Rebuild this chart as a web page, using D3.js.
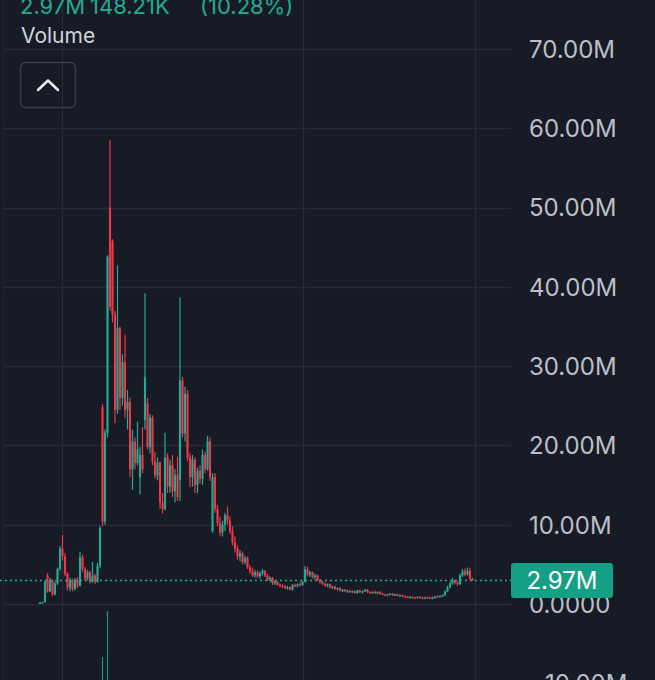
<!DOCTYPE html>
<html>
<head>
<meta charset="utf-8">
<script src="https://cdn.jsdelivr.net/npm/d3@7"></script>
<style>
  html, body { margin: 0; padding: 0; background: #171b26; }
  svg { display: block; }
</style>
</head>
<body>
<div id="chart"></div>
<script>
// volume candles, in millions: [open, high, low, close]
const candles = [
  [0.05, 0.25, 0.0, 0.15], [0.15, 0.3, 0.1, 0.25], [0.25, 3.0, 0.2, 2.8], [3.6, 3.9, 1.4, 1.6],
  [1.6, 3.3, 1.5, 3.0], [3.0, 3.1, 1.0, 1.2], [1.2, 2.8, 1.1, 2.6], [2.6, 4.6, 2.4, 4.4],
  [4.4, 7.3, 4.2, 7.0], [7.0, 8.7, 5.5, 6.0], [6.0, 6.4, 3.5, 3.8], [3.8, 4.0, 1.7, 2.1],
  [2.1, 3.3, 1.6, 3.0], [3.0, 3.2, 1.6, 1.9], [1.9, 3.3, 1.7, 3.0], [3.0, 3.4, 2.0, 2.3],
  [2.3, 6.6, 2.2, 5.9], [5.9, 6.2, 4.0, 4.4], [4.4, 4.7, 2.9, 3.2], [3.2, 4.3, 3.0, 4.0],
  [4.0, 4.2, 2.6, 2.8], [2.8, 5.3, 2.7, 3.6], [3.6, 3.8, 2.5, 2.8], [2.8, 5.2, 2.7, 4.8],
  [4.8, 9.8, 4.5, 9.6], [24.8, 25.2, 9.8, 10.4], [10.4, 22.0, 10.0, 21.6], [21.6, 44.0, 21.0, 43.8],
  [50.0, 58.5, 37.0, 37.5], [45.8, 46.0, 35.5, 36.5], [36.5, 37.0, 22.8, 24.5], [24.5, 42.7, 24.0, 34.8],
  [34.8, 35.0, 24.5, 26.0], [26.0, 31.5, 25.0, 30.5], [30.5, 34.0, 23.5, 24.5], [24.5, 27.0, 22.0, 25.5],
  [25.5, 26.0, 16.0, 17.0], [17.0, 22.0, 14.4, 20.5], [20.5, 21.0, 17.0, 17.8], [17.8, 23.0, 17.5, 19.5],
  [16.0, 19.8, 13.8, 18.8], [18.8, 22.3, 16.5, 17.0], [23.2, 39.2, 22.0, 28.6], [25.3, 26.0, 19.5, 19.8],
  [19.8, 24.0, 19.0, 23.5], [23.5, 23.8, 17.5, 18.0], [18.0, 19.2, 15.8, 16.2], [16.2, 18.5, 15.6, 17.8],
  [17.8, 18.0, 12.0, 12.8], [12.8, 14.0, 11.4, 12.0], [12.0, 21.6, 11.8, 18.5], [18.5, 19.0, 14.0, 14.8],
  [14.8, 18.2, 14.0, 17.5], [17.5, 18.8, 13.5, 14.2], [14.2, 17.0, 12.8, 16.3], [16.3, 18.6, 13.0, 13.5],
  [15.6, 38.7, 13.0, 28.2], [28.2, 28.6, 21.0, 21.5], [21.5, 27.4, 20.5, 26.5], [26.5, 27.0, 18.0, 18.5],
  [18.5, 19.0, 14.8, 16.0], [16.0, 18.8, 14.8, 18.2], [18.2, 18.5, 14.0, 15.0], [15.0, 17.2, 14.0, 16.8],
  [16.8, 17.5, 15.2, 15.8], [15.8, 19.5, 15.0, 18.8], [18.8, 19.2, 16.5, 17.0], [17.0, 21.2, 16.8, 20.5],
  [20.5, 21.0, 15.5, 16.0], [9.2, 16.5, 9.0, 16.0], [16.0, 16.5, 11.5, 12.0], [12.0, 12.5, 9.8, 10.2],
  [10.2, 11.0, 8.6, 9.0], [9.0, 10.5, 8.5, 10.0], [10.0, 11.5, 9.2, 11.2], [11.2, 12.3, 10.0, 10.5],
  [10.5, 11.0, 8.8, 9.2], [9.2, 9.8, 7.4, 7.8], [7.8, 8.5, 6.5, 7.0], [7.0, 7.4, 5.6, 6.0],
  [6.0, 6.8, 5.4, 6.4], [6.4, 6.6, 5.0, 5.3], [5.3, 6.1, 5.0, 5.8], [5.8, 6.0, 4.4, 4.6],
  [4.6, 4.9, 3.8, 4.1], [4.1, 4.6, 3.4, 3.6], [3.6, 4.3, 3.3, 4.0], [4.0, 4.2, 3.3, 3.5],
  [3.5, 4.1, 3.2, 3.9], [3.9, 4.4, 3.6, 4.2], [4.2, 4.3, 3.4, 3.6], [3.6, 3.8, 2.9, 3.1],
  [3.1, 3.5, 2.8, 3.3], [3.3, 3.4, 2.4, 2.6], [2.6, 3.0, 2.4, 2.8], [2.8, 2.9, 2.3, 2.4],
  [2.4, 2.6, 2.1, 2.3], [2.3, 2.5, 2.0, 2.2], [2.2, 2.4, 1.9, 2.0], [2.0, 2.3, 1.8, 2.1],
  [2.1, 2.2, 1.7, 1.8], [1.8, 2.5, 1.7, 2.4], [2.4, 2.6, 2.1, 2.3], [2.3, 2.6, 2.1, 2.5],
  [2.5, 2.7, 2.2, 2.4], [2.4, 2.9, 2.3, 2.8], [2.8, 4.8, 2.7, 4.4], [4.4, 4.7, 3.5, 3.7],
  [3.7, 4.2, 3.4, 4.0], [4.0, 4.1, 3.2, 3.4], [3.4, 3.8, 3.1, 3.6], [3.6, 3.7, 2.9, 3.0],
  [3.0, 3.2, 2.6, 2.8], [2.8, 2.9, 2.4, 2.5], [2.5, 2.7, 2.2, 2.3], [2.3, 2.6, 2.1, 2.5],
  [2.5, 2.6, 2.0, 2.1], [2.1, 2.3, 1.9, 2.2], [2.2, 2.3, 1.8, 1.9], [1.9, 2.1, 1.7, 2.0],
  [2.0, 2.1, 1.6, 1.7], [1.7, 1.9, 1.5, 1.8], [1.8, 1.9, 1.5, 1.6], [1.6, 1.8, 1.4, 1.7],
  [1.7, 1.8, 1.4, 1.5], [1.5, 1.7, 1.4, 1.6], [1.6, 1.7, 1.3, 1.4], [1.4, 1.8, 1.3, 1.7],
  [1.7, 1.8, 1.4, 1.5], [1.5, 1.7, 1.3, 1.6], [1.6, 1.9, 1.5, 1.8], [1.8, 1.9, 1.4, 1.5],
  [1.5, 1.6, 1.3, 1.4], [1.4, 1.6, 1.3, 1.5], [1.5, 1.7, 1.3, 1.4], [1.4, 1.6, 1.2, 1.5],
  [1.5, 1.6, 1.2, 1.3], [1.3, 1.4, 1.1, 1.2], [1.2, 1.3, 1.0, 1.1], [1.1, 1.3, 1.0, 1.2],
  [1.2, 1.4, 1.1, 1.3], [1.3, 1.4, 1.0, 1.1], [1.1, 1.3, 1.0, 1.2], [1.2, 1.3, 1.0, 1.0],
  [1.0, 1.2, 0.9, 1.1], [1.1, 1.2, 0.9, 0.95], [0.95, 1.1, 0.8, 0.9], [0.9, 1.0, 0.8, 0.85],
  [0.85, 1.0, 0.7, 0.9], [0.9, 1.0, 0.7, 0.8], [0.8, 0.9, 0.7, 0.75], [0.75, 0.95, 0.7, 0.9],
  [0.9, 1.0, 0.7, 0.8], [0.8, 0.9, 0.6, 0.7], [0.7, 0.9, 0.6, 0.85], [0.85, 0.95, 0.7, 0.8],
  [0.8, 0.9, 0.6, 0.7], [0.7, 0.9, 0.6, 0.85], [0.85, 1.0, 0.7, 0.95], [0.95, 1.1, 0.8, 0.9],
  [0.9, 1.1, 0.85, 1.0], [1.0, 1.2, 0.9, 1.1], [1.1, 1.7, 1.0, 1.6], [1.6, 2.3, 1.5, 2.1],
  [2.1, 2.8, 2.0, 2.6], [2.6, 3.3, 2.4, 3.0], [3.0, 3.1, 2.5, 2.7], [2.7, 2.9, 2.3, 2.5],
  [2.5, 3.8, 2.4, 3.6], [3.6, 4.4, 3.4, 4.1], [4.1, 4.5, 3.5, 3.7], [3.7, 4.6, 3.6, 4.2],
  [4.2, 4.5, 3.0, 3.2], [3.2, 3.3, 2.9, 2.97]
];

const yTicks = [70, 60, 50, 40, 30, 20, 10, 0, -10];
const timeGridIndex = [8.8, 105.2, 174];   // vertical grid lines (candle index)
const lastValue = 2.97;
const lastValueLabel = "2.97M";
// wick tops of the pane below that reach into this one: [candle index, top value]
const lowerPaneTops = [[25, -6.7], [27, -0.9]];
const headerParts = ["2.97M", "148.21K", "(10.28%)"];
const paneTitle = "Volume";

const width = 655, height = 680;
const plotRight = 511;
const upColor = "#22ab94", downColor = "#f23645";
const gridColor = "#272b37";
const fontFamily = "Inter, Roboto, 'Noto Sans', sans-serif";

const svg = d3.select("#chart").append("svg")
  .attr("width", width)
  .attr("height", height);

svg.append("rect")
  .attr("width", width).attr("height", height)
  .attr("fill", "#171b26");

const x = d3.scaleLinear()
  .domain([0, candles.length - 1])
  .range([40, 472.5]);

const y = d3.scaleLinear()
  .domain([0, 70])
  .range([604, 49]);

// grid
svg.append("g").selectAll("line")
  .data(yTicks)
  .enter().append("line")
  .attr("x1", 4).attr("x2", plotRight)
  .attr("y1", d => Math.round(y(d)) + 0.5)
  .attr("y2", d => Math.round(y(d)) + 0.5)
  .attr("stroke", gridColor)
  .attr("stroke-width", 1.3);

svg.append("g").selectAll("line")
  .data(timeGridIndex)
  .enter().append("line")
  .attr("x1", d => Math.round(x(d)) + 0.5)
  .attr("x2", d => Math.round(x(d)) + 0.5)
  .attr("y1", 0).attr("y2", height)
  .attr("stroke", gridColor)
  .attr("stroke-width", 1.3);

// left pane edge
svg.append("line")
  .attr("x1", 3.5).attr("x2", 3.5)
  .attr("y1", 0).attr("y2", height)
  .attr("stroke", "#222633");

// wicks from the lower pane poking up
svg.append("g").selectAll("line")
  .data(lowerPaneTops)
  .enter().append("line")
  .attr("x1", d => x(d[0])).attr("x2", d => x(d[0]))
  .attr("y1", d => y(d[1])).attr("y2", height)
  .attr("stroke", "#1f9483")
  .attr("stroke-width", 1.2);

// candles
const candle = svg.append("g").selectAll("g")
  .data(candles)
  .enter().append("g")
  .attr("fill", d => d[3] >= d[0] ? upColor : downColor)
  .attr("stroke", d => d[3] >= d[0] ? upColor : downColor);

candle.append("line")
  .attr("x1", (d, i) => x(i)).attr("x2", (d, i) => x(i))
  .attr("y1", d => y(d[1])).attr("y2", d => y(d[2]))
  .attr("stroke-width", 1.2);

candle.append("rect")
  .attr("x", (d, i) => x(i) - 1.05)
  .attr("width", 2.1)
  .attr("y", d => y(Math.max(d[0], d[3])))
  .attr("height", d => Math.max(1.2, Math.abs(y(d[0]) - y(d[3]))))
  .attr("stroke", "none");

// last value dotted line
svg.append("line")
  .attr("x1", 0).attr("x2", plotRight)
  .attr("y1", y(lastValue)).attr("y2", y(lastValue))
  .attr("stroke", upColor)
  .attr("stroke-width", 1.6)
  .attr("stroke-dasharray", "2,3");

// right axis labels
svg.append("g").selectAll("text")
  .data(yTicks)
  .enter().append("text")
  .attr("x", 529)
  .attr("y", d => y(d) + 8.8)
  .attr("fill", "#bcbfc7")
  .attr("font-family", fontFamily)
  .attr("font-size", 24)
  .text(d => d === 0 ? "0.0000" : (d < 0 ? "\u2212" : "") + Math.abs(d).toFixed(2) + "M");

// last value tag
svg.append("rect")
  .attr("x", plotRight).attr("y", y(lastValue) - 17.5)
  .attr("width", 102).attr("height", 35)
  .attr("rx", 3)
  .attr("fill", "#14a085");

svg.append("text")
  .attr("x", plotRight + 51)
  .attr("y", y(lastValue) + 8.8)
  .attr("text-anchor", "middle")
  .attr("fill", "#ffffff")
  .attr("font-family", fontFamily)
  .attr("font-size", 24)
  .text(lastValueLabel);

// header (cut off at the top)
const headerX = [20, 90, 200];
svg.append("g").selectAll("text")
  .data(headerParts)
  .enter().append("text")
  .attr("x", (d, i) => headerX[i])
  .attr("y", 14)
  .attr("fill", upColor)
  .attr("font-family", fontFamily)
  .attr("font-size", 22)
  .text(d => d);

svg.append("text")
  .attr("x", 21).attr("y", 43)
  .attr("fill", "#d1d4dc")
  .attr("font-family", fontFamily)
  .attr("font-size", 21)
  .text(paneTitle);

// collapse button
svg.append("rect")
  .attr("x", 20.5).attr("y", 62.5)
  .attr("width", 55).attr("height", 45)
  .attr("rx", 5)
  .attr("fill", "none")
  .attr("stroke", "#3a3e4a")
  .attr("stroke-width", 1.5);

svg.append("path")
  .attr("d", "M38,90 L48,80.5 L58,90")
  .attr("fill", "none")
  .attr("stroke", "#e6e8ee")
  .attr("stroke-width", 2.6)
  .attr("stroke-linecap", "round")
  .attr("stroke-linejoin", "round");
</script>
</body>
</html>
